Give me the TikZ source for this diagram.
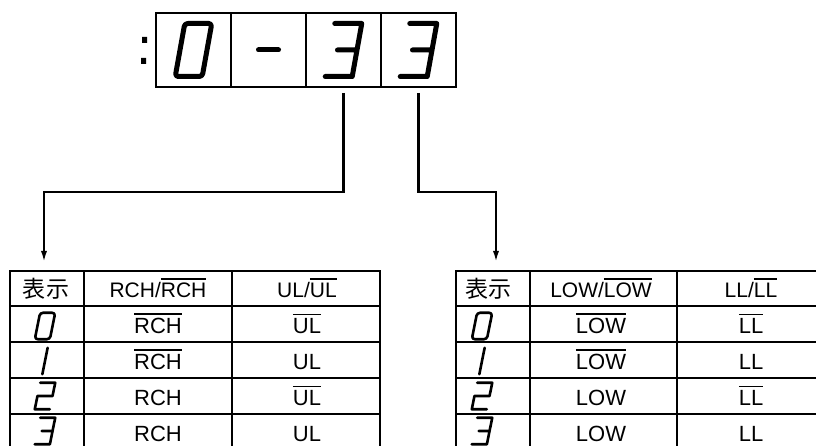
\documentclass[tikz,border=0pt]{standalone}
\usepackage{fontspec}
\setmainfont{Liberation Sans}
\newfontfamily\cjk{Noto Sans CJK JP}
\usetikzlibrary{positioning,arrows.meta}
\newcommand\ovl[1]{\vbox{\hrule height 1.6pt\kern 2.6pt\hbox{#1}}}

\begin{document}
\begin{tikzpicture}[x=1pt,y=-1pt,
    cell/.style={draw,line width=2pt,outer sep=0pt,inner sep=0pt,minimum width=75pt,minimum height=74pt},
    grid/.style={line width=1.8pt},
    conn/.style={line width=2.3pt,-{Latex[length=12pt,width=6pt]},shorten <=6pt,shorten >=8pt},
    hd/.style={anchor=base,inner sep=0pt,font=\fontsize{21}{24}\selectfont},
    txt/.style={anchor=base,inner sep=0pt,font=\fontsize{22}{26}\selectfont},
    bigseg/.style={line width=5pt,line cap=round,line join=round},
    smallseg/.style={bigseg,line width=2.6pt,xscale=.56,yscale=.5},
    segdigit/.pic={%
      \ifcase#1 \draw[xslant=.18,rounded corners=3pt] (-13.5,-26.5) rectangle (13.5,26.5);
      \or \draw[xslant=.18] (0,-26.5) -- (0,26.5);
      \or \draw[xslant=.18] (-13.5,-26.5) -- (13.5,-26.5) -- (13.5,0) -- (-13.5,0) -- (-13.5,26.5) -- (13.5,26.5);
      \or \draw[xslant=.18] (-13.5,-26.5) -- (13.5,-26.5) -- (13.5,26.5) -- (-13.5,26.5) (-6,0) -- (13.5,0);
      \fi},
    segdash/.pic={\draw (-10,0) -- (10,0);}]
  \useasboundingbox (0,0) rectangle (816,446);

  % display
  \node[cell] (c1) at (193.5,50) {};
  \node[cell,right=0pt of c1] (c2) {};
  \node[cell,right=0pt of c2] (c3) {};
  \node[cell,right=0pt of c3] (c4) {};
  \fill (142,37) rectangle (147,43) (141,58) rectangle (146,64);
  \pic[bigseg] at (c1) {segdigit=0};
  \pic[bigseg] at (c2) {segdash};
  \pic[bigseg] at (c3) {segdigit=3};
  \pic[bigseg] at (c4) {segdigit=3};

  \coordinate (bend) at (0,192);
  \coordinate (inL) at (44,271);
  \coordinate (inR) at (496,271);
  \draw[conn] (c3.south) -- (c3.south |- bend) -| (inL);
  \draw[conn] (c4.south) -- (c4.south |- bend) -| (inR);

  % left table
  \draw[grid] (10,446) -- (10,271) -- (380,271) -- (380,446);
  \foreach \x in {84,232} \draw[grid] (\x,271) -- (\x,446);
  \foreach \y in {306,342,378,414} \draw[grid] (10,\y) -- (380,\y);
  \node[hd] (hL1) at (46,297) {\cjk\fontsize{23}{26}\selectfont 表示};
  \node[hd] (hL2) at (158,297) {RCH/\ovl{RCH}};
  \node[hd] (hL3) at (307,297) {UL/\ovl{UL}};
  \foreach \d/\a/\b [count=\r] in {0/\ovl{RCH}/\ovl{UL},1/\ovl{RCH}/UL,2/RCH/\ovl{UL},3/RCH/UL}{
    \pic[smallseg] at (45,{291+35*\r}) {segdigit=\d};
    \node[txt] (rch\r) at (158,{297+36*\r}) {\a};
    \node[txt] (ul\r) at (307,{297+36*\r}) {\b};
  }

  % right table
  \draw[grid] (456,446) -- (456,271) -- (816,271);
  \foreach \x in {530,677} \draw[grid] (\x,271) -- (\x,446);
  \foreach \y in {306,342,378,414} \draw[grid] (456,\y) -- (816,\y);
  \node[hd] (hR1) at (488,297) {\cjk\fontsize{23}{26}\selectfont 表示};
  \node[hd] (hR2) at (601,297) {LOW/\ovl{LOW}};
  \node[hd] (hR3) at (751,297) {LL/\ovl{LL}};
  \foreach \d/\a/\b [count=\r] in {0/\ovl{LOW}/\ovl{LL},1/\ovl{LOW}/LL,2/LOW/\ovl{LL},3/LOW/LL}{
    \pic[smallseg] at (482,{291+35*\r}) {segdigit=\d};
    \node[txt] (low\r) at (601,{297+36*\r}) {\a};
    \node[txt] (ll\r) at (751,{297+36*\r}) {\b};
  }
\end{tikzpicture}
\end{document}
